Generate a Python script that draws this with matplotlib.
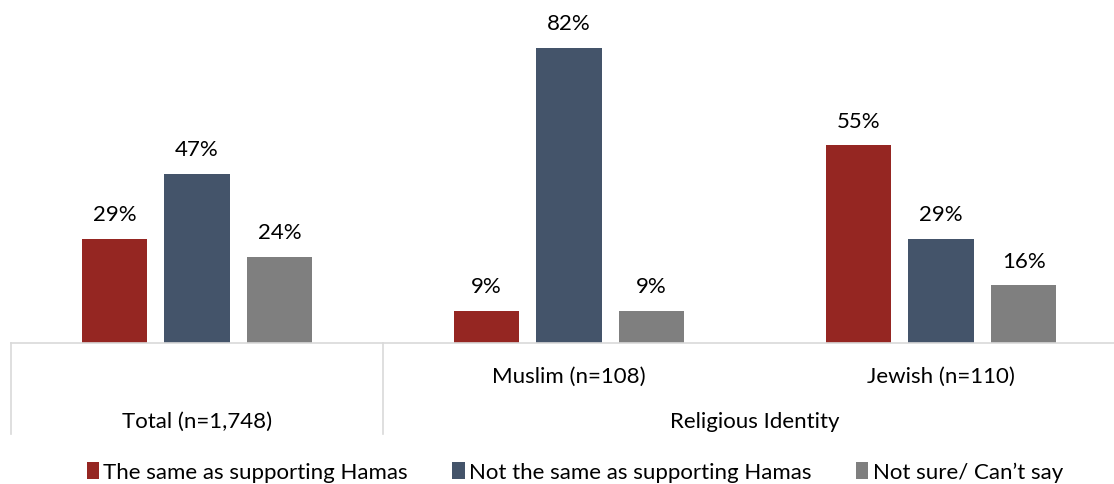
import matplotlib
matplotlib.use('Agg')
import matplotlib.pyplot as plt
import matplotlib.transforms as mtransforms
import numpy as np

plt.rcParams['font.family'] = ['Lato', 'DejaVu Sans']

# data
groups = ['Total (n=1,748)', 'Muslim (n=108)', 'Jewish (n=110)']
series = ['The same as supporting Hamas', 'Not the same as supporting Hamas',
          'Not sure/ Can\u2019t say']
same = [29, 9, 55]
not_same = [47, 82, 29]
not_sure = [24, 9, 16]
colors = ['#952622', '#44546A', '#7F7F7F']

W, H = 1114, 485
fs = 16
fig = plt.figure(figsize=(W / 100, H / 100), dpi=100)
# axes: x from 11px to 1127px, baseline at y=344px
ax = fig.add_axes([11 / W, (H - 344) / H, 1116 / W, 344 / H])

x = np.arange(len(groups))
width = 0.175
offset = 0.222
for i, (vals, col, lab) in enumerate(zip([same, not_same, not_sure], colors, series)):
    pos = x + (i - 1) * offset
    bars = ax.bar(pos, vals, width, color=col, label=lab)
    for b, v in zip(bars, vals):
        ax.text(b.get_x() + b.get_width() / 2, v + 4, f'{v}%', ha='center',
                va='bottom', fontsize=fs, color='black')

ax.set_xlim(-0.5, 2.5)
ax.set_ylim(0, 344 / 3.6)
for s in ['top', 'right', 'left']:
    ax.spines[s].set_visible(False)
ax.spines['bottom'].set_color('#d9d9d9')
ax.spines['bottom'].set_linewidth(1.2)
ax.set_xticks([])
ax.set_yticks([])

# multi-level category axis
trans = mtransforms.blended_transform_factory(ax.transData, ax.transAxes)
ybot = (344 - 435) / 344
for xv in [-0.5, 0.5]:
    ax.plot([xv, xv], [0, ybot], color='#d9d9d9', lw=1.2, transform=trans,
            clip_on=False)

y_inner = (344 - 377) / 344
y_outer = (344 - 422) / 344
ax.text(0, y_outer, groups[0], ha='center', va='center', fontsize=fs,
        transform=trans)
ax.text(1, y_inner, groups[1], ha='center', va='center', fontsize=fs,
        transform=trans)
ax.text(2, y_inner, groups[2], ha='center', va='center', fontsize=fs,
        transform=trans)
ax.text(1.5, y_outer, 'Religious Identity', ha='center', va='center',
        fontsize=fs, transform=trans)

# legend
fig.legend(loc='center', bbox_to_anchor=(0.516, 1 - 473 / H), ncol=3,
           frameon=False, fontsize=fs, handlelength=0.55, handleheight=0.85,
           handletextpad=0.2, columnspacing=2.0)

fig.savefig('out.png', dpi=100)
